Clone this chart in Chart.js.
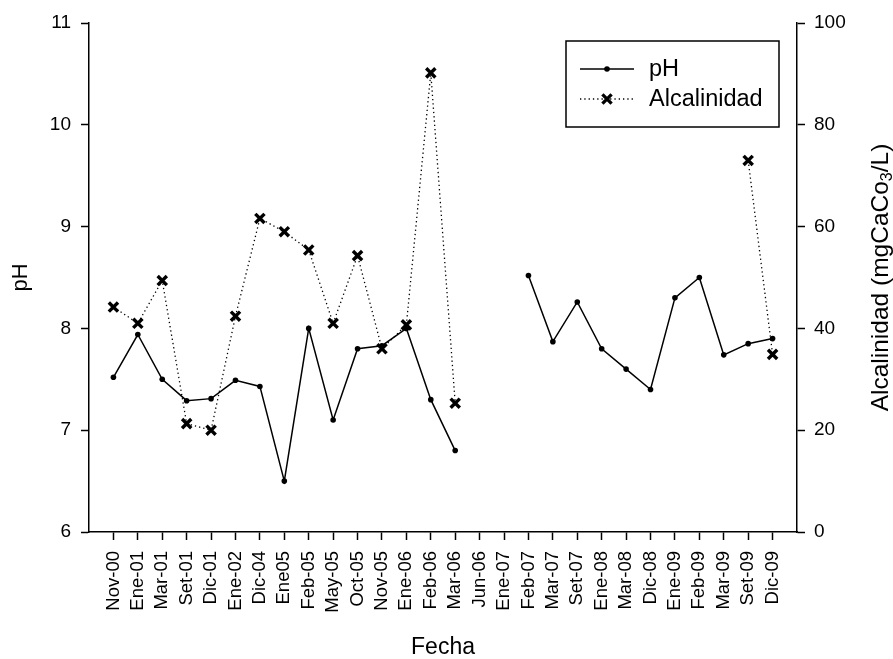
<!DOCTYPE html>
<html>
<head>
<meta charset="utf-8">
<script src="https://cdn.jsdelivr.net/npm/chart.js@4.4.0/dist/chart.umd.min.js"></script>
<style>
  body { margin: 0; background: #fff; }
  #wrap { width: 893px; height: 659px; }
</style>
</head>
<body>
<div id="wrap"><canvas id="phChart" width="893" height="659"></canvas></div>
<script>
// muestreos (eje x)
const fechas = ['Nov-00', 'Ene-01', 'Mar-01', 'Set-01', 'Dic-01', 'Ene-02', 'Dic-04', 'Ene05',
  'Feb-05', 'May-05', 'Oct-05', 'Nov-05', 'Ene-06', 'Feb-06', 'Mar-06', 'Jun-06', 'Ene-07',
  'Feb-07', 'Mar-07', 'Set-07', 'Ene-08', 'Mar-08', 'Dic-08', 'Ene-09', 'Feb-09', 'Mar-09',
  'Set-09', 'Dic-09'];

const phValores = [7.52, 7.94, 7.50, 7.29, 7.31, 7.49, 7.43, 6.50, 8.00, 7.10, 7.80, 7.83,
  8.00, 7.30, 6.80, null, null, 8.52, 7.87, 8.26, 7.80, 7.60, 7.40, 8.30, 8.50, 7.74, 7.85, 7.90];

// mgCaCO3/L
const alcalinidad = [44.2, 41.0, 49.4, 21.3, 20.0, 42.4, 61.6, 59.0, 55.4, 41.0, 54.3, 36.0,
  40.7, 90.2, 25.3, null, null, null, null, null, null, null, null, null, null, null, 73.0, 34.9];

const FONT = '"Liberation Sans", Arial, sans-serif';

function puntos(vals) {
  return vals.map((v, i) => ({ x: i, y: v }));
}

function cruz(ctx, x, y, r, w) {
  ctx.save();
  ctx.lineWidth = w;
  ctx.strokeStyle = '#000';
  ctx.beginPath();
  ctx.moveTo(x - r, y - r); ctx.lineTo(x + r, y + r);
  ctx.moveTo(x - r, y + r); ctx.lineTo(x + r, y - r);
  ctx.stroke();
  ctx.restore();
}

// leyenda con recuadro y titulo del eje derecho (con subindice)
const extras = {
  id: 'extras',
  afterDraw(chart) {
    const ctx = chart.ctx;
    const area = chart.chartArea;

    // titulo eje derecho
    ctx.save();
    ctx.fillStyle = '#000';
    ctx.textBaseline = 'middle';
    ctx.textAlign = 'left';
    ctx.translate(881, (area.top + area.bottom) / 2);
    ctx.rotate(-Math.PI / 2);
    const big = '24.5px ' + FONT, small = '16px ' + FONT;
    ctx.font = big;
    const a = 'Alcalinidad (mgCaCo', c = '/L)';
    const wa = ctx.measureText(a).width, wc = ctx.measureText(c).width;
    ctx.font = small;
    const wb = ctx.measureText('3').width;
    let x0 = -(wa + wb + wc) / 2;
    ctx.font = big;
    ctx.fillText(a, x0, 0);
    ctx.font = small;
    ctx.fillText('3', x0 + wa, 7);
    ctx.font = big;
    ctx.fillText(c, x0 + wa + wb, 0);
    ctx.restore();

    // leyenda
    const bx = area.right - 231, by = area.top + 18, bw = 213, bh = 86;
    ctx.save();
    ctx.fillStyle = '#fff';
    ctx.fillRect(bx, by, bw, bh);
    ctx.lineWidth = 1.5;
    ctx.strokeStyle = '#000';
    ctx.strokeRect(bx, by, bw, bh);

    const y1 = by + 28, y2 = by + 58;
    ctx.lineWidth = 1.5;
    ctx.beginPath();
    ctx.moveTo(bx + 14, y1); ctx.lineTo(bx + 68, y1);
    ctx.stroke();
    ctx.fillStyle = '#000';
    ctx.beginPath();
    ctx.arc(bx + 41, y1, 2.8, 0, Math.PI * 2);
    ctx.fill();

    ctx.lineWidth = 1.3;
    ctx.setLineDash([1.3, 3]);
    ctx.beginPath();
    ctx.moveTo(bx + 14, y2); ctx.lineTo(bx + 68, y2);
    ctx.stroke();
    ctx.setLineDash([]);
    cruz(ctx, bx + 41, y2, 4.6, 3.3);

    ctx.font = '23.5px ' + FONT;
    ctx.textBaseline = 'middle';
    ctx.fillText('pH', bx + 83, y1 + 1);
    ctx.fillText('Alcalinidad', bx + 83, y2 + 1);
    ctx.restore();
  }
};

const negro = '#000';

new Chart(document.getElementById('phChart'), {
  type: 'line',
  data: {
    datasets: [
      {
        label: 'pH',
        data: puntos(phValores),
        yAxisID: 'y',
        borderColor: negro,
        borderWidth: 1.5,
        pointStyle: 'circle',
        pointRadius: 2.8,
        pointBackgroundColor: negro,
        pointBorderColor: negro,
        pointBorderWidth: 0,
        spanGaps: false,
        tension: 0
      },
      {
        label: 'Alcalinidad',
        data: puntos(alcalinidad),
        yAxisID: 'y1',
        borderColor: negro,
        borderWidth: 1.3,
        borderDash: [1.3, 3],
        pointStyle: 'crossRot',
        pointRadius: 6.5,
        pointBorderColor: negro,
        pointBorderWidth: 3.4,
        spanGaps: false,
        tension: 0
      }
    ]
  },
  options: {
    responsive: false,
    animation: false,
    layout: { padding: { top: 23, left: 0, right: 0, bottom: 0 } },
    plugins: {
      legend: { display: false },
      tooltip: { enabled: false }
    },
    scales: {
      x: {
        type: 'linear',
        min: -1,
        max: 28,
        afterBuildTicks: s => { s.ticks = s.ticks.filter(t => t.value >= 0 && t.value <= 27); },
        afterFit: s => { s.height = 127; },
        ticks: {
          stepSize: 1,
          autoSkip: false,
          maxRotation: 90,
          minRotation: 90,
          padding: 11,
          color: negro,
          font: { family: FONT, size: 18.5 },
          callback: v => fechas[Math.round(v)] ?? ''
        },
        grid: { drawOnChartArea: false, tickLength: 8, tickColor: negro, tickWidth: 1.5 },
        border: { display: true, color: negro, width: 1.5 },
        title: {
          display: true,
          text: 'Fecha',
          color: negro,
          font: { family: FONT, size: 23, lineHeight: 1 },
          padding: { top: 0, bottom: 0 }
        }
      },
      y: {
        position: 'left',
        min: 6,
        max: 11,
        afterFit: s => { s.width = 89; },
        ticks: {
          stepSize: 1,
          padding: 10,
          color: negro,
          font: { family: FONT, size: 19 }
        },
        grid: { drawOnChartArea: false, tickLength: 8, tickColor: negro, tickWidth: 1.5 },
        border: { display: true, color: negro, width: 1.5 },
        title: {
          display: true,
          text: 'pH',
          color: negro,
          font: { family: FONT, size: 22, lineHeight: 1 },
          padding: { top: 10, bottom: 0 }
        }
      },
      y1: {
        position: 'right',
        min: 0,
        max: 100,
        afterFit: s => { s.width = 96; },
        ticks: {
          stepSize: 20,
          padding: 9,
          color: negro,
          font: { family: FONT, size: 19 }
        },
        grid: { drawOnChartArea: false, tickLength: 8, tickColor: negro, tickWidth: 1.5 },
        border: { display: true, color: negro, width: 1.5 }
      }
    }
  },
  plugins: [extras]
});
</script>
</body>
</html>
